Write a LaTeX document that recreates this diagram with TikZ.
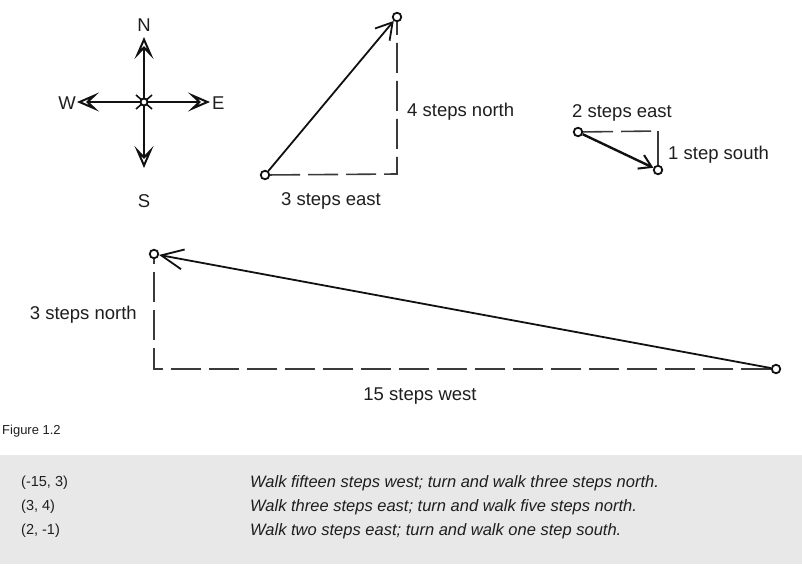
\documentclass[tikz,border=0pt]{standalone}
\usepackage{fontspec}
\setmainfont{Liberation Sans}
\usetikzlibrary{arrows.meta}

\definecolor{couleurtrait}{HTML}{111111}
\definecolor{couleurtirets}{HTML}{3A3A3A}
\definecolor{couleurtext}{HTML}{1E1E1E}
\definecolor{couleurfond}{HTML}{E8E8E8}
\newcommand{\lientrajet}[2]{\draw[trajet] (#1) -- (#2);}
\newcommand{\lientirets}[3]{\draw[tirets] (#1) -- (#2) -- (#3);}
\tikzset{
		point/.style={circle, draw=couleurtrait, fill=white, line width=1.8pt, inner sep=0pt, minimum size=8.5pt},
		etiquette/.style={text=couleurtext, inner sep=0pt, font=\fontsize{18.5}{20}\selectfont},
		trajet/.style={draw=couleurtrait, line width=1.8pt, -{Straight Barb[length=16pt, width=19pt, line width=1.8pt]}},
		tirets/.style={draw=couleurtirets, line width=1.6pt, dash pattern=on 30pt off 8pt},
		boussole/.style={draw=couleurtrait, line width=2.2pt, -{Stealth[open, length=22pt, width=19pt, inset=10pt, line width=2pt]}},
		tableau/.style={text=couleurtext, anchor=west, inner sep=0pt, font=\fontsize{14.5}{16}\selectfont}
	}

\begin{document}
\begin{tikzpicture}[x=1pt, y=-1pt]
		\useasboundingbox (0,0) rectangle (802,567);
		% boussole
		\node[point, minimum size=7pt] (cent) at (144,102) {};
		\coordinate (nord) at (144,37);
		\coordinate (sud) at (144,168);
		\coordinate (ouest) at (77,102);
		\coordinate (est) at (210,102);
		\draw[boussole] (cent) -- (nord);
		\draw[boussole] (cent) -- (sud);
		\draw[boussole] (cent) -- (ouest);
		\draw[boussole] (cent) -- (est);
		\draw[couleurtrait, line width=1.6pt] ([shift={(-8,-7)}]cent.center) -- ([shift={(8,7)}]cent.center);
		\draw[couleurtrait, line width=1.6pt] ([shift={(-8,7)}]cent.center) -- ([shift={(8,-7)}]cent.center);
		\node[point, minimum size=7pt] at (cent) {};
		\node[etiquette] (lettn) at (144,25) {N};
		\node[etiquette] (letts) at (144,201) {S};
		\node[etiquette, anchor=east] (lettw) at (76,103) {W};
		\node[etiquette, anchor=west] (lette) at (212,103) {E};

		% (3, 4)
		\node[point] (depb) at (265,175) {};
		\node[point] (arrb) at (397,17) {};
		\coordinate (coinb) at (397,174);
		\lientirets{depb}{coinb}{arrb}
		\lientrajet{depb}{arrb}
		\node[etiquette, anchor=west] (nordb) at (407,112) {4 steps north};
		\node[etiquette] (estb) at (331,201) {3 steps east};

		% (2, -1)
		\node[point] (depc) at (578,132) {};
		\node[point] (arrc) at (658,170) {};
		\coordinate (coinc) at (658,131);
		\draw[tirets] (depc) -- (coinc);
		\draw[couleurtirets, line width=1.4pt] (coinc) -- (arrc);
		\draw[trajet, line width=2.4pt, -{Straight Barb[length=12pt, width=15pt, line width=2pt]}] (depc) -- (arrc);
		\node[etiquette] (estc) at (622,113) {2 steps east};
		\node[etiquette, anchor=west] (sudc) at (668,155) {1 step south};

		% (-15, 3)
		\node[point] (depa) at (776,369) {};
		\node[point] (arra) at (154,254) {};
		\coordinate (coina) at (154,369);
		\lientirets{depa}{coina}{arra}
		\draw[trajet, -{Straight Barb[length=22pt, width=20pt, line width=1.8pt]}] (depa) -- (arra);
		\node[etiquette, anchor=east] (norda) at (137,315) {3 steps north};
		\node[etiquette] (ouesta) at (420,396) {15 steps west};

		% legende
		\node[text=couleurtext, anchor=west, inner sep=0pt, font=\fontsize{13}{14}\selectfont] (figu) at (2,431) {Figure 1.2};
		\fill[couleurfond] (0,455) rectangle (802,564);
		\node[tableau] (coora) at (21,483) {(-15, 3)};
		\node[tableau] (coorb) at (21,507) {(3, 4)};
		\node[tableau] (coorc) at (21,531) {(2, -1)};
		\node[tableau, font=\fontsize{16.5}{18}\selectfont\itshape] (phra) at (250,483) {Walk fifteen steps west; turn and walk three steps north.};
		\node[tableau, font=\fontsize{16.5}{18}\selectfont\itshape] (phrb) at (250,507) {Walk three steps east; turn and walk five steps north.};
		\node[tableau, font=\fontsize{16.5}{18}\selectfont\itshape] (phrc) at (250,531) {Walk two steps east; turn and walk one step south.};
	\end{tikzpicture}
\end{document}
